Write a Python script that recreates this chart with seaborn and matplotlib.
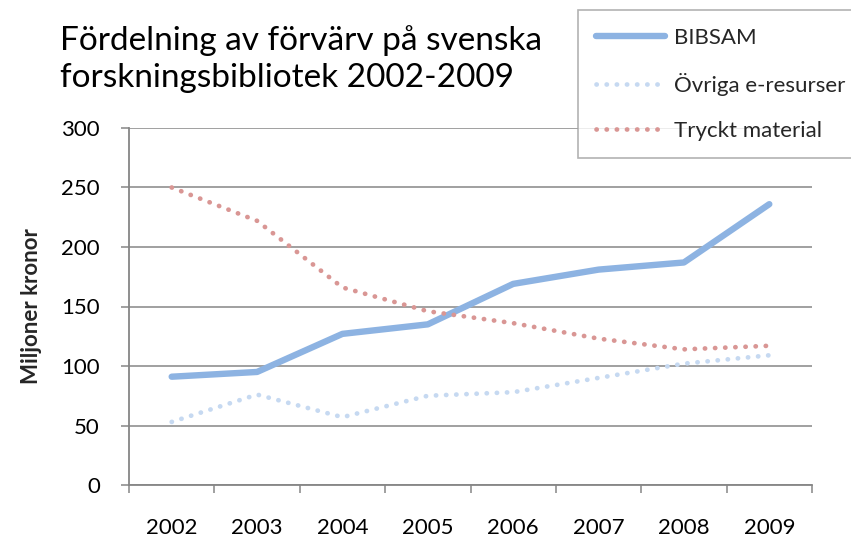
import matplotlib
matplotlib.use("Agg")
import matplotlib.pyplot as plt
import pandas as pd
import seaborn as sns
from matplotlib.ticker import FixedLocator


years = ["2002", "2003", "2004", "2005", "2006", "2007", "2008", "2009"]
bibsam = [91, 95, 127, 135, 169, 181, 187, 236]
ovriga = [53, 76, 57, 75, 78, 90, 102, 109]
tryckt = [250, 222, 166, 146, 136, 123, 114, 117]

series_names = ["BIBSAM", "Övriga e-resurser", "Tryckt material"]
series_colors = ["#8DB3E2", "#C6D9F1", "#D99694"]

sns.set_theme(style="white")
plt.rcParams["font.family"] = ["Lato", "DejaVu Sans"]

GRAY = "#868686"

fig = plt.figure(figsize=(8.51, 5.40), dpi=100)
ax = fig.add_axes([129 / 851, 1 - 485 / 540, (812 - 129) / 851, (485 - 128) / 540])

df = pd.DataFrame({"year": years, "BIBSAM": bibsam,
                   "Övriga e-resurser": ovriga, "Tryckt material": tryckt})

dotted = (0, (0.05, 2.1))
styles = {"BIBSAM": dict(linewidth=4.6, linestyle="-"),
          "Övriga e-resurser": dict(linewidth=3.4, linestyle=dotted),
          "Tryckt material": dict(linewidth=3.4, linestyle=dotted)}

for name, color in zip(series_names, series_colors):
    sns.lineplot(data=df, x="year", y=name, color=color, label=name,
                 ax=ax, sort=False, **styles[name])

for line in ax.lines:
    line.set_dash_capstyle("round")
    line.set_solid_capstyle("round")
    line.set_solid_joinstyle("round")

ax.set_xlim(-0.5, len(years) - 0.5)
ax.set_ylim(0, 300)
ax.set_yticks(range(0, 301, 50))
ax.yaxis.grid(True, color=GRAY, linewidth=1.1)
ax.set_axisbelow(True)

ax.set_xticks(range(len(years)))
ax.set_xticklabels(years)
ax.xaxis.set_minor_locator(FixedLocator([i - 0.5 for i in range(len(years) + 1)]))
ax.tick_params(axis="x", which="major", length=0, pad=24, labelsize=16, labelcolor="black")
ax.tick_params(axis="x", which="minor", length=6, width=1.1, color=GRAY, direction="out",
               bottom=True)
ax.tick_params(axis="y", length=6, width=1.1, color=GRAY, direction="out", pad=15,
               labelsize=16, labelcolor="black", left=True)

for side in ["top", "right"]:
    ax.spines[side].set_visible(False)
for side in ["left", "bottom"]:
    ax.spines[side].set_color(GRAY)
    ax.spines[side].set_linewidth(1.3)

ax.set_xlabel("")
ax.set_ylabel("Miljoner kronor", fontsize=16, fontweight="bold", labelpad=14)

fig.text(60 / 851, 1 - 25 / 540, "Fördelning av förvärv på svenska\nforskningsbibliotek 2002-2009",
         fontsize=24, va="top", ha="left", linespacing=1.3, color="black")

leg = ax.legend(loc="upper left", bbox_to_anchor=(578 / 851, 1 - 10 / 540),
                bbox_transform=fig.transFigure, frameon=True, fancybox=False,
                fontsize=16, handlelength=3.1, handletextpad=0.4,
                labelspacing=1.12, borderpad=0.8, borderaxespad=0)
leg.get_frame().set_edgecolor("#A0A0A0")
leg.get_frame().set_linewidth(1.2)

fig.savefig("out.png", dpi=100)
plt.close(fig)
